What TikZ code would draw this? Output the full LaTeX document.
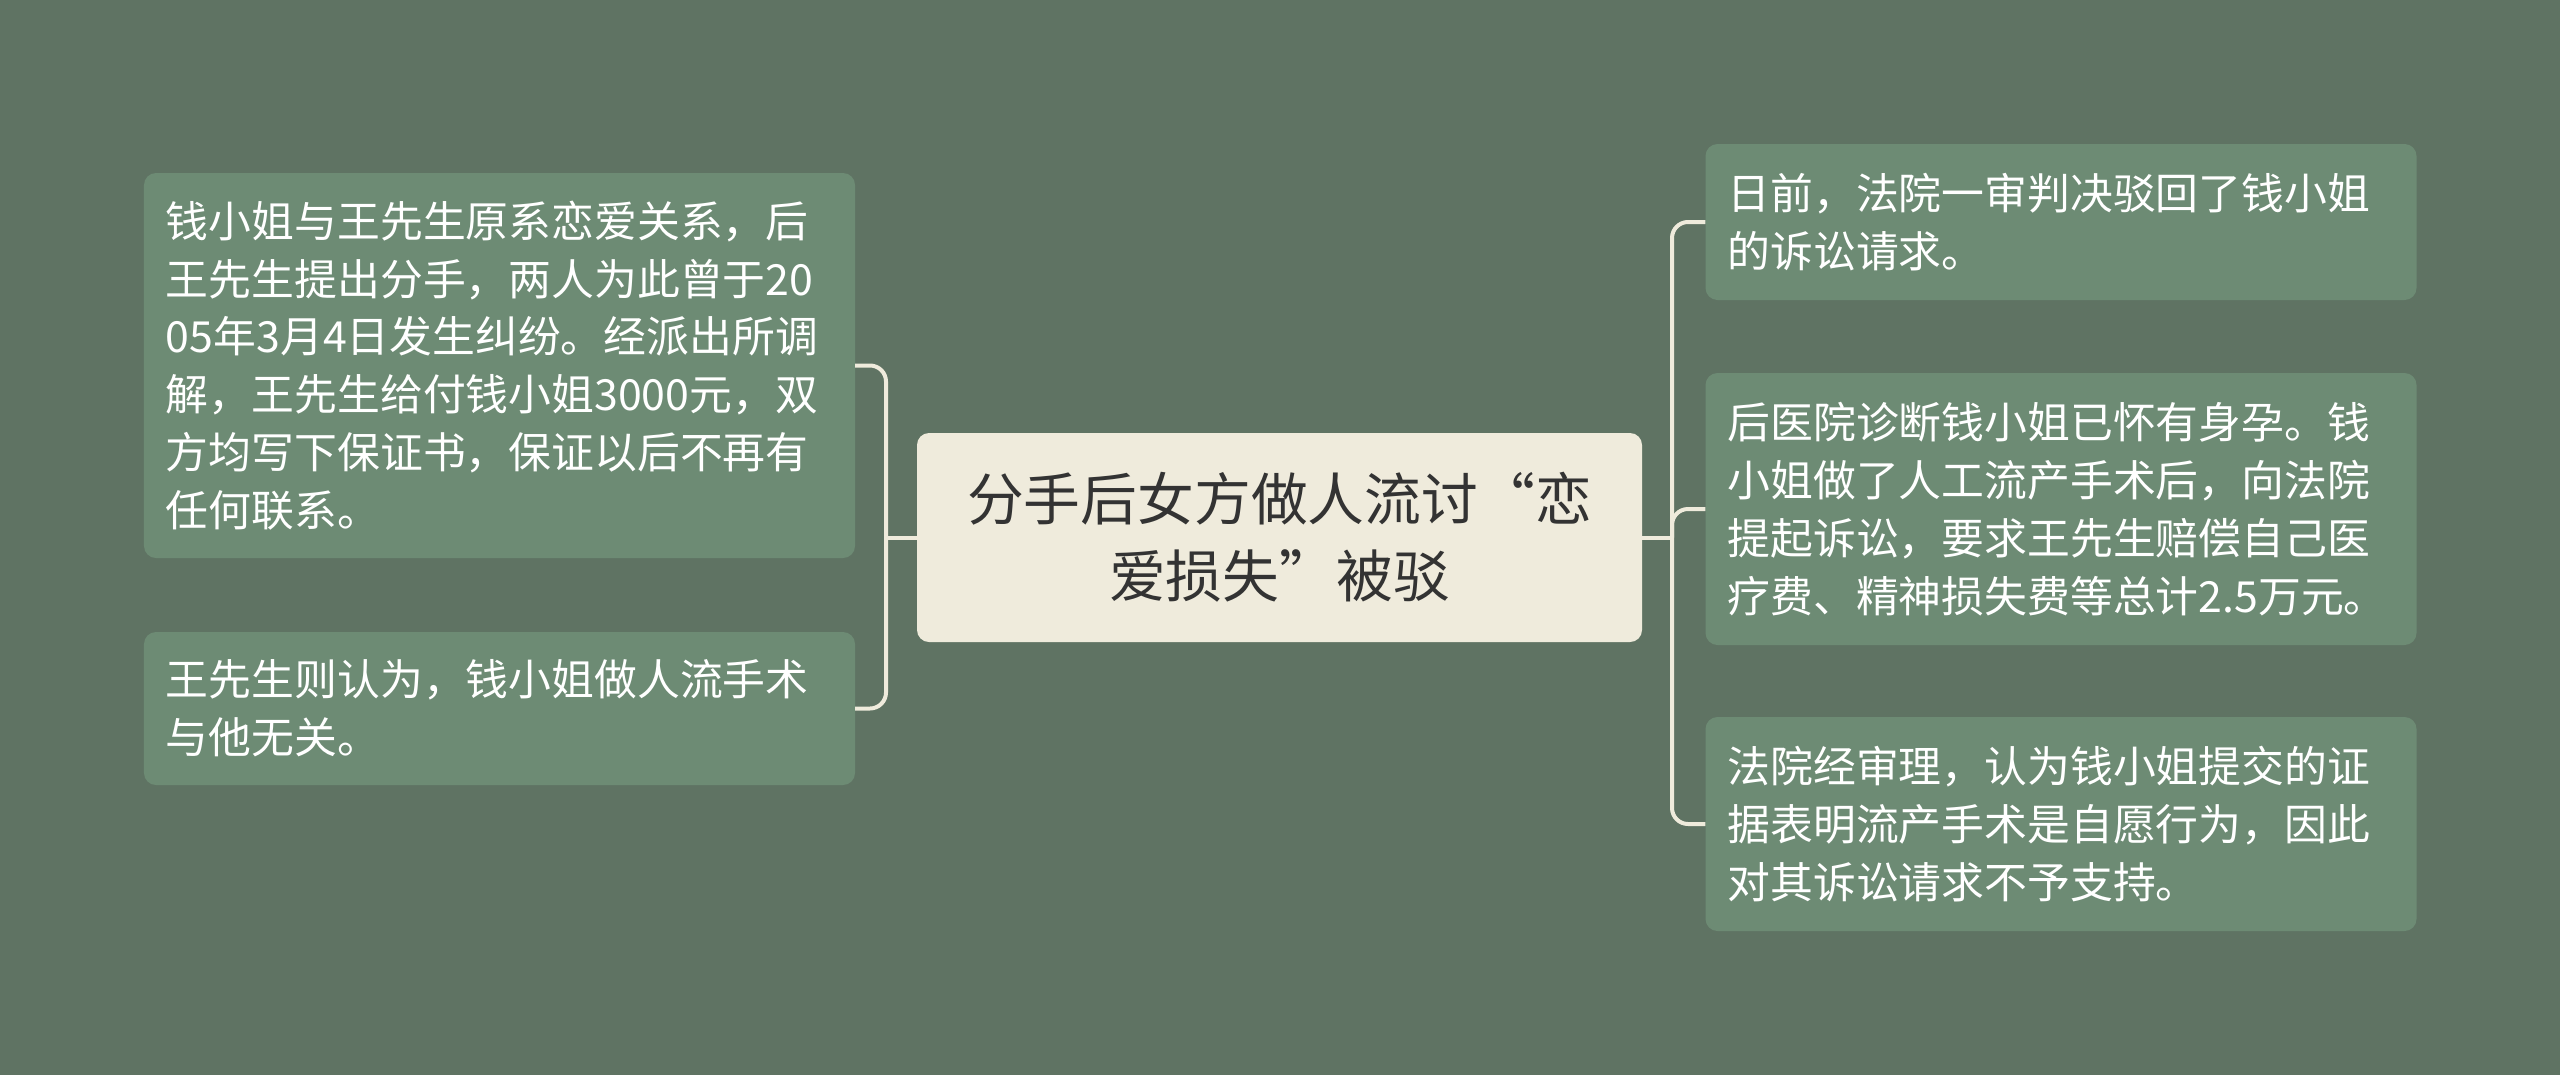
\documentclass[tikz,border=0pt]{standalone}
\usepackage{fontspec}
\setmainfont{Noto Sans CJK SC}
\definecolor{bgc}{HTML}{5F7363}
\definecolor{leafc}{HTML}{6D8B74}
\definecolor{rootc}{HTML}{EFEBDC}
\definecolor{linec}{HTML}{EFEBDC}
\definecolor{roottext}{HTML}{333333}
\tikzset{
  leaf/.style={rounded corners=12bp, fill=leafc, text=white,
    font=\fontsize{43}{58}\selectfont, text width=667bp, inner xsep=22bp,
    inner ysep=0pt, align=left, minimum width=711bp},
  rootbox/.style={rounded corners=12bp, fill=rootc, text=roottext,
    font=\fontsize{57}{77}\selectfont, text width=681bp, inner xsep=22bp,
    inner ysep=0pt, align=center, minimum width=725bp},
  conn/.style={draw=linec, line width=4bp, rounded corners=16bp}
}
\begin{document}
\begin{tikzpicture}[x=1bp,y=-1bp]
\useasboundingbox[fill=bgc] (0,0) rectangle (2560,1075);

\node[rootbox, minimum height=209bp] (C) at (1279.5,537.5) {分手后女方做人流讨“恋\\爱损失”被驳};

\node[leaf, minimum height=385bp] (L1) at (499.5,365.5) {钱小姐与王先生原系恋爱关系，后\\王先生提出分手，两人为此曾于20\\05年3月4日发生纠纷。经派出所调\\解，王先生给付钱小姐3000元，双\\方均写下保证书，保证以后不再有\\任何联系。};
\node[leaf, minimum height=153bp] (L2) at (499.5,708.5) {王先生则认为，钱小姐做人流手术\\与他无关。};

\node[leaf, minimum height=156bp] (R1) at (2061,222) {日前，法院一审判决驳回了钱小姐\\的诉讼请求。};
\node[leaf, minimum height=272bp] (R2) at (2061,509) {后医院诊断钱小姐已怀有身孕。钱\\小姐做了人工流产手术后，向法院\\提起诉讼，要求王先生赔偿自己医\\疗费、精神损失费等总计2.5万元。};
\node[leaf, minimum height=214bp] (R3) at (2061,824) {法院经审理，认为钱小姐提交的证\\据表明流产手术是自愿行为，因此\\对其诉讼请求不予支持。};

\coordinate (jl) at (886,537.5);
\coordinate (jr) at (1672,537.5);

\draw[conn] (L1.east) -| (jl) |- (L2.east);
\draw[conn] (C.west) -- (jl);
\draw[conn] (R1.west) -| (jr) |- (R3.west);
\draw[conn] (jr) |- (R2.west);
\draw[conn] (C.east) -- (jr);
\end{tikzpicture}
\end{document}
